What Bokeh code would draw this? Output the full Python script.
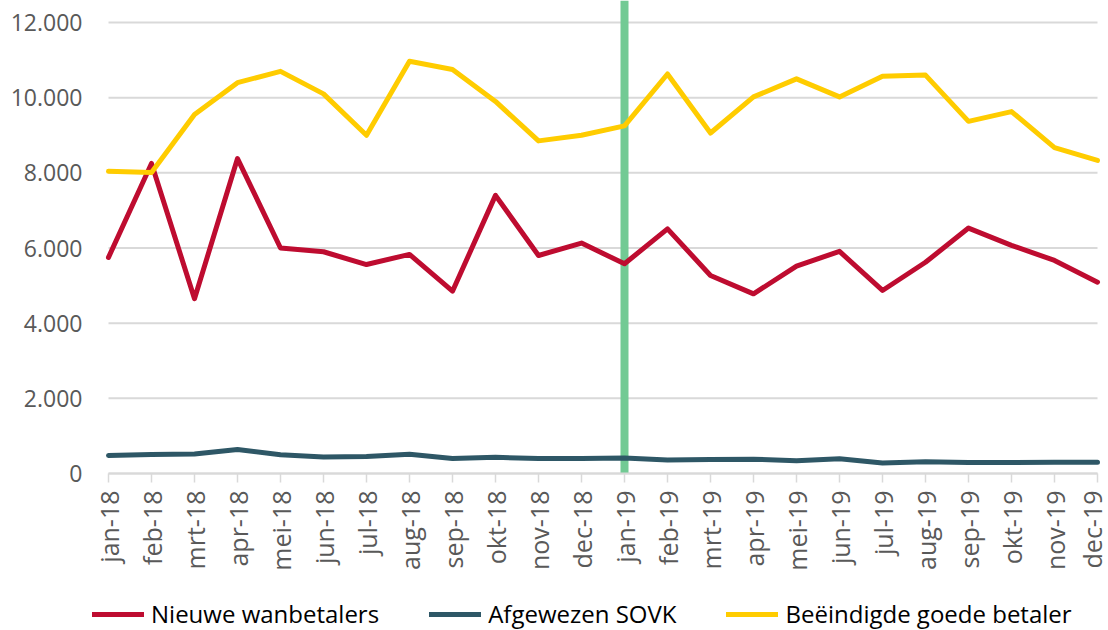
import math
from bokeh.plotting import figure
from bokeh.models import Range1d, FixedTicker, Legend, LegendItem
from bokeh.embed import file_html
from bokeh.resources import INLINE

months = ["jan-18", "feb-18", "mrt-18", "apr-18", "mei-18", "jun-18", "jul-18", "aug-18",
          "sep-18", "okt-18", "nov-18", "dec-18", "jan-19", "feb-19", "mrt-19", "apr-19",
          "mei-19", "jun-19", "jul-19", "aug-19", "sep-19", "okt-19", "nov-19", "dec-19"]

nieuwe_wanbetalers = [5750, 8250, 4650, 8380, 6000, 5900, 5560, 5830, 4850, 7400, 5800, 6130,
                      5580, 6510, 5270, 4780, 5520, 5910, 4870, 5620, 6530, 6070, 5670, 5090]
afgewezen_sovk = [480, 505, 520, 640, 500, 440, 450, 510, 400, 430, 400, 400,
                  410, 360, 370, 380, 340, 390, 280, 310, 290, 290, 300, 300]
beeindigde_goede_betaler = [8040, 8010, 9550, 10400, 10700, 10100, 9000, 10970, 10750, 9900, 8850, 9000,
                            9250, 10630, 9060, 10020, 10500, 10020, 10570, 10600, 9370, 9630, 8670, 8330]

y_ticks = [0, 2000, 4000, 6000, 8000, 10000, 12000]
y_labels = ["0", "2.000", "4.000", "6.000", "8.000", "10.000", "12.000"]
marker_month = "jan-19"

x = list(range(len(months)))
n_last = len(months) - 1

FONT = "Open Sans"
TXT = "#595959"
GRID = "#D9D9D9"

# layout (pixels)
W, H = 1108, 630
FRAME_LEFT = 90          # frame starts here (room for legend)
X0_PX, XN_PX = 108, 1097  # pixel columns of first / last month
AXIS_Y = 473              # pixel row of value 0
PX_PER_12000 = 451

unit = (XN_PX - X0_PX) / n_last
x_start = -(X0_PX - FRAME_LEFT) / unit
x_end = n_last + (W - XN_PX) / unit
y_top = 12000 * AXIS_Y / PX_PER_12000
y_bottom = -12000 * (H - AXIS_Y) / PX_PER_12000

p = figure(width=W, height=H, output_backend="svg", toolbar_location=None,
           x_range=Range1d(x_start, x_end), y_range=Range1d(y_bottom, y_top),
           min_border_left=FRAME_LEFT, min_border_right=0, min_border_top=0, min_border_bottom=0)
p.outline_line_color = None
p.background_fill_color = "white"

# horizontal gridlines only across the months
p.xgrid.grid_line_color = None
p.ygrid.grid_line_color = None
p.segment(x0=[0] * len(y_ticks), y0=y_ticks, x1=[n_last] * len(y_ticks), y1=y_ticks,
          line_color=GRID, line_width=2)

# x axis drawn at value 0 inside the frame
p.xaxis.fixed_location = 0
p.xaxis.bounds = (0, n_last)
p.xaxis.ticker = FixedTicker(ticks=x)
p.xaxis.major_label_overrides = {i: m for i, m in enumerate(months)}
p.xaxis.major_label_orientation = math.pi / 2
p.xaxis.axis_line_color = GRID
p.xaxis.axis_line_width = 2
p.xaxis.major_tick_line_color = GRID
p.xaxis.major_tick_line_width = 1.5
p.xaxis.major_tick_out = 9
p.xaxis.major_tick_in = 0
p.xaxis.minor_tick_line_color = None
p.xaxis.major_label_standoff = 8
p.xaxis.major_label_text_font = FONT
p.xaxis.major_label_text_font_size = "25px"
p.xaxis.major_label_text_color = TXT

p.yaxis.ticker = FixedTicker(ticks=y_ticks)
p.yaxis.major_label_overrides = {t: l for t, l in zip(y_ticks, y_labels)}
p.yaxis.axis_line_color = None
p.yaxis.major_tick_line_color = None
p.yaxis.minor_tick_line_color = None
p.yaxis.major_tick_out = 0
p.yaxis.major_tick_in = 0
p.yaxis.major_label_standoff = 8
p.yaxis.major_label_text_font = FONT
p.yaxis.major_label_text_font_size = "23px"
p.yaxis.major_label_text_color = TXT

# green marker at jan-19, from 0 up to the top of the plot
mi = months.index(marker_month)
p.segment(x0=[mi], y0=[0], x1=[mi], y1=[y_top], line_color="#72CA94", line_width=8)

r1 = p.line(x, nieuwe_wanbetalers, line_color="#BE0C30", line_width=5, line_join="round", line_cap="round")
r2 = p.line(x, afgewezen_sovk, line_color="#2E5766", line_width=5, line_join="round", line_cap="round")
r3 = p.line(x, beeindigde_goede_betaler, line_color="#FFCC00", line_width=5, line_join="round", line_cap="round")

legend = Legend(items=[LegendItem(label="Nieuwe wanbetalers", renderers=[r1]),
                       LegendItem(label="Afgewezen SOVK", renderers=[r2]),
                       LegendItem(label="Beëindigde goede betaler", renderers=[r3])],
                orientation="horizontal", location=(2, 0))
legend.border_line_color = None
legend.background_fill_color = None
legend.background_fill_alpha = 0
legend.label_text_font = FONT
legend.label_text_font_size = "24px"
legend.label_text_color = "#000000"
legend.glyph_width = 52
legend.glyph_height = 24
legend.label_standoff = 7
legend.spacing = 50
legend.padding = 0
legend.margin = 0
legend.label_height = 24
p.add_layout(legend, "center")

open("out.html", "w").write(file_html(p, INLINE))
